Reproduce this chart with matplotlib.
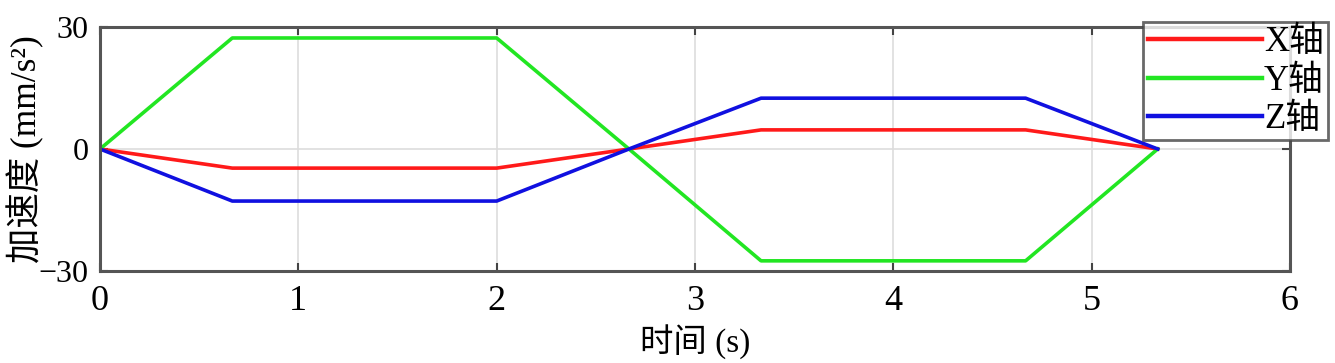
import matplotlib
matplotlib.use("Agg")
import matplotlib.pyplot as plt

plt.rcParams['font.family'] = ['Liberation Serif', 'Noto Sans CJK SC', 'DejaVu Sans']

t = [0, 0.667, 2.0, 2.667, 3.333, 4.667, 5.333]
ax_x = [0, -4.7, -4.7, 0, 4.7, 4.7, 0]
ax_y = [0, 27.3, 27.3, 0, -27.5, -27.5, 0]
ax_z = [0, -12.8, -12.8, 0, 12.5, 12.5, 0]
labels = ['X轴', 'Y轴', 'Z轴']
colors = ['#ff1a1a', '#22e622', '#1010e0']
xticks = [0, 1, 2, 3, 4, 5, 6]
yticks = [-30, 0, 30]

fig = plt.figure(figsize=(13.35, 3.63), dpi=100)
ax = fig.add_axes([100/1335, 1-271/363, 1190/1335, 244/363])

for vals, lab, c in zip([ax_x, ax_y, ax_z], labels, colors):
    ax.plot(t, vals, color=c, lw=2.6, label=lab)

ax.set_xlim(0, 6)
ax.set_ylim(-30, 30)
ax.set_xticks(xticks)
ax.set_yticks(yticks)
ax.set_yticklabels(['\u221230', '0', '30'])
ax.grid(True, color='#dddddd', lw=1.2)
ax.set_axisbelow(True)
ax.tick_params(direction='in', length=6, width=1.5, colors='#444444', labelcolor='black',
               top=True, right=True)
ax.tick_params(axis='x', pad=10, labelsize=26)
ax.tick_params(axis='y', pad=8, labelsize=23)
for s in ax.spines.values():
    s.set_color('#555555')
    s.set_linewidth(2.2)

ax.set_xlabel('时间 (s)', fontsize=24, labelpad=5)
ax.set_ylabel('加速度 (mm/s²)', fontsize=25.5, labelpad=-4)

leg = fig.legend(loc='upper right', bbox_to_anchor=(1328/1335, 1-22/363), fontsize=25,
                 handlelength=3.3, handletextpad=0.05, labelspacing=0.16, borderpad=0.12,
                 frameon=True, fancybox=False, borderaxespad=0)
leg.get_frame().set_edgecolor('#444444')
leg.get_frame().set_linewidth(2)
for line in leg.get_lines():
    line.set_linewidth(3.2)

fig.savefig('out.png', dpi=100)
